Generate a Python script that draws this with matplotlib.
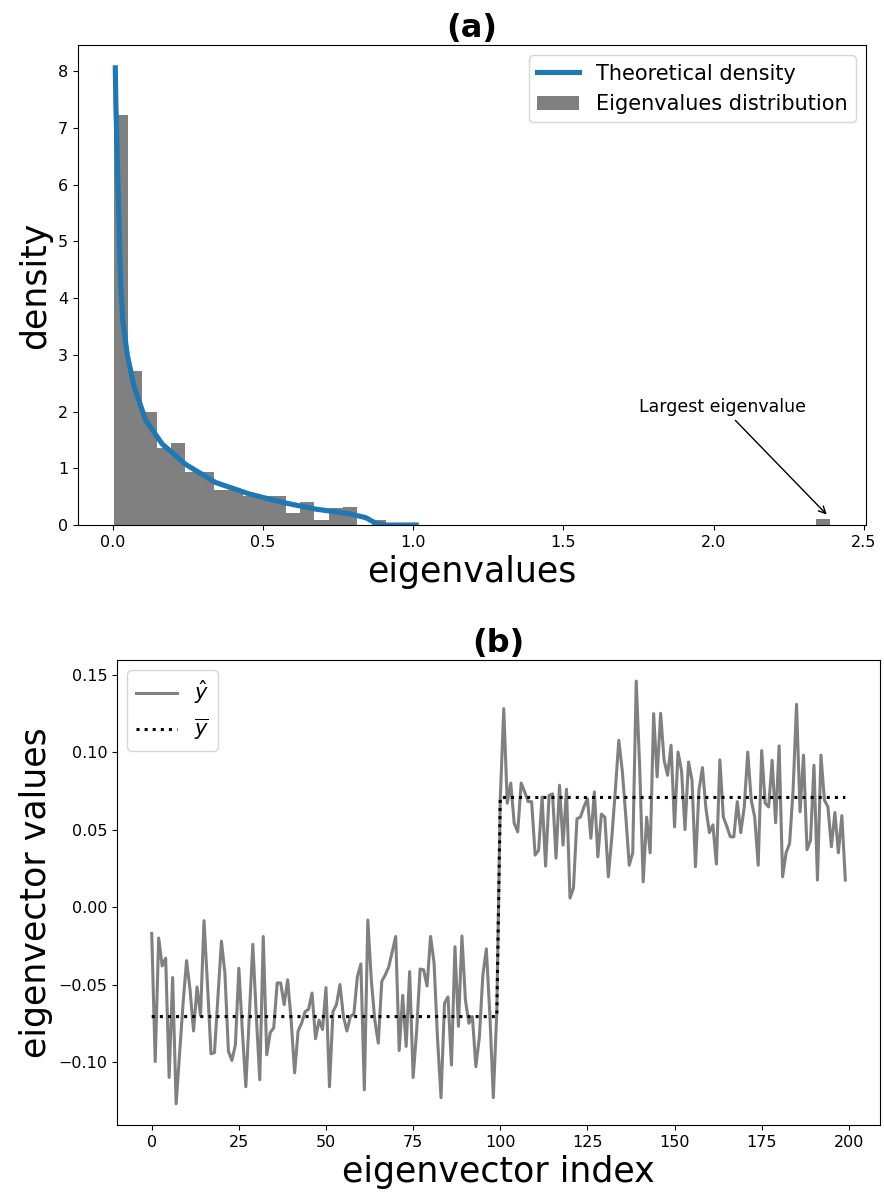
import numpy as np
import matplotlib
matplotlib.use('Agg')
import matplotlib.pyplot as plt

# ---- (a) eigenvalue histogram + theoretical density ----
hist_lo, hist_hi, n_bins = 0.003, 2.388, 50
hist_heights = [7.23, 2.72, 1.99, 1.36, 1.45, 0.935, 0.935, 0.614, 0.614, 0.52,
                0.52, 0.51, 0.207, 0.41, 0.096, 0.307, 0.31, 0.0, 0.09, 0.0] \
               + [0.0] * 29 + [0.105]

density_x = [0.008, 0.010, 0.0144, 0.020, 0.0256, 0.033, 0.048, 0.070, 0.109, 0.164,
             0.242, 0.342, 0.453, 0.564, 0.676, 0.787, 0.842, 0.876, 0.91, 1.01]
density_y = [8.06, 7.4, 6.5, 5.4, 4.3, 3.6, 3.0, 2.45, 1.85, 1.43,
             1.07, 0.75, 0.55, 0.40, 0.28, 0.20, 0.13, 0.03, 0.0, 0.0]

largest_eig = (2.383, 0.15)
largest_txt = (1.75, 2.0)

# ---- (b) eigenvector entries ----
y_hat = [
    -0.017, -0.0997, -0.020, -0.038, -0.033, -0.110, -0.0455, -0.127, -0.095, -0.062,
    -0.0346, -0.0535, -0.080, -0.0516, -0.070, -0.0088, -0.050, -0.0947, -0.094, -0.058,
    -0.022, -0.0428, -0.093, -0.099, -0.089, -0.0395, -0.080, -0.116, -0.070, -0.024,
    -0.070, -0.1115, -0.019, -0.0954, -0.081, -0.078, -0.049, -0.049, -0.063, -0.047,
    -0.073, -0.107, -0.080, -0.075, -0.0675, -0.066, -0.0555, -0.085, -0.073, -0.079,
    -0.052, -0.116, -0.0675, -0.063, -0.050, -0.0707, -0.080, -0.0707, -0.069, -0.045,
    -0.0367, -0.118, -0.0084, -0.047, -0.073, -0.0878, -0.048, -0.0438, -0.0387, -0.0288,
    -0.019, -0.0926, -0.057, -0.090, -0.0417, -0.110, -0.080, -0.040, -0.0405, -0.051,
    -0.019, -0.036, -0.085, -0.123, -0.062, -0.058, -0.102, -0.0256, -0.077, -0.0187,
    -0.060, -0.075, -0.0707, -0.103, -0.084, -0.044, -0.027, -0.069, -0.123, -0.068,
    0.070, 0.128, 0.067, 0.080, 0.054, 0.0485, 0.080, 0.0743, 0.068, 0.068,
    0.0335, 0.0367, 0.071, 0.0264, 0.072, 0.073, 0.0315, 0.0786, 0.040, 0.076,
    0.0058, 0.0122, 0.057, 0.058, 0.0646, 0.070, 0.0444, 0.0743, 0.0324, 0.060,
    0.058, 0.0195, 0.045, 0.075, 0.1076, 0.088, 0.059, 0.027, 0.035, 0.1458,
    0.090, 0.0163, 0.058, 0.035, 0.1248, 0.084, 0.125, 0.0947, 0.085, 0.1044,
    0.0517, 0.100, 0.088, 0.050, 0.0936, 0.082, 0.026, 0.0754, 0.090, 0.0637,
    0.048, 0.053, 0.0277, 0.095, 0.058, 0.052, 0.0453, 0.0453, 0.068, 0.048,
    0.0646, 0.100, 0.069, 0.058, 0.027, 0.101, 0.067, 0.0646, 0.0947, 0.0544,
    0.104, 0.0195, 0.035, 0.041, 0.075, 0.1308, 0.0614, 0.098, 0.037, 0.043,
    0.0915, 0.0174, 0.098, 0.069, 0.0646, 0.0389, 0.061, 0.035, 0.059, 0.0174,
]
ybar_levels = [-0.0707, 0.0707]
ybar_counts = [100, 100]

fig = plt.figure(figsize=(8.84, 11.96), dpi=100)
ax1 = fig.add_axes([0.0882, 0.561, 0.8914, 0.4014])
ax2 = fig.add_axes([0.1324, 0.0594, 0.8631, 0.3888])

# (a)
edges = np.linspace(hist_lo, hist_hi, n_bins + 1)
centers = 0.5 * (edges[:-1] + edges[1:])
_, _, bars = ax1.hist(centers, bins=edges, weights=hist_heights, color='gray',
                      label='Eigenvalues distribution')
line, = ax1.plot(density_x, density_y, color='#1f77b4', lw=3.7,
                 label='Theoretical density')
ax1.annotate('Largest eigenvalue', xy=largest_eig, xytext=largest_txt,
             fontsize=12.5, arrowprops=dict(arrowstyle='->', color='black'))
ax1.set_xticks([0.0, 0.5, 1.0, 1.5, 2.0, 2.5])
ax1.set_xlabel('eigenvalues', fontsize=25)
ax1.set_ylabel('density', fontsize=25)
ax1.set_title('(a)', fontsize=23, fontweight='bold')
ax1.tick_params(labelsize=11.5)
ax1.legend(handles=[line, bars[0]], loc='upper right', fontsize=15)

# (b)
idx = np.arange(len(y_hat))
y_bar = np.repeat(ybar_levels, ybar_counts)
ax2.plot(idx, y_hat, color='gray', lw=2.2, label=r'$\hat{y}$')
ax2.plot(idx, y_bar, color='black', ls=':', lw=2.2, label=r'$\overline{y}$')
ax2.set_xlabel('eigenvector index', fontsize=25)
ax2.set_ylabel('eigenvector values', fontsize=25)
ax2.set_title('(b)', fontsize=23, fontweight='bold')
ax2.tick_params(labelsize=11.5)
ax2.legend(loc='upper left', fontsize=15)

fig.savefig('out.png', dpi=100)
